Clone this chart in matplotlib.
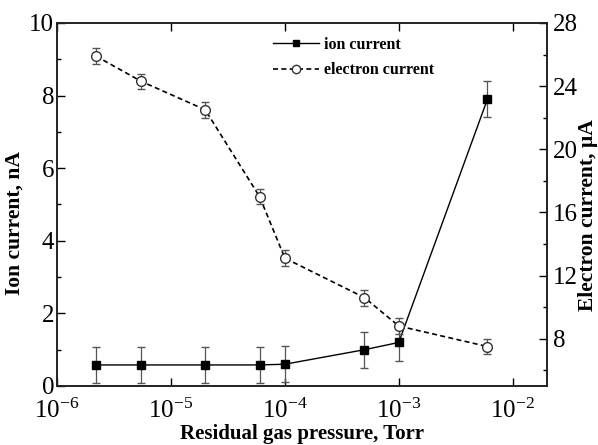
import numpy as np
import matplotlib
matplotlib.use('Agg')
import matplotlib.pyplot as plt
from matplotlib.ticker import MultipleLocator, LogLocator, NullLocator
from matplotlib.lines import Line2D

plt.rcParams['font.family'] = ['Liberation Serif', 'DejaVu Serif']
plt.rcParams['mathtext.fontset'] = 'custom'
plt.rcParams['mathtext.rm'] = 'Liberation Serif'

# pressure, Torr
pressure = [2.2e-6, 5.5e-6, 2.0e-5, 6.0e-5, 1.0e-4, 5.0e-4, 1.0e-3, 6.0e-3]
# ion current, nA
ion = [0.58, 0.58, 0.58, 0.58, 0.60, 1.0, 1.2, 7.9]
ion_err = [0.5, 0.5, 0.5, 0.5, 0.5, 0.5, 0.5, 0.5]
# electron current, uA
electron = [25.9, 24.3, 22.5, 17.0, 13.1, 10.6, 8.8, 7.5]
electron_err = [0.5, 0.5, 0.5, 0.5, 0.5, 0.5, 0.5, 0.5]

fig = plt.figure(figsize=(5.98, 4.45), dpi=100)
ax = fig.add_axes([57/598, 1 - 386/445, 490/598, 363/445])
ax2 = ax.twinx()

ax.errorbar(pressure, ion, yerr=ion_err, color='black', lw=1.0,
            marker='s', ms=6, mfc='black', ecolor='#555555',
            elinewidth=0.9, capsize=3)
ax2.errorbar(pressure, electron, yerr=electron_err, color='black', lw=1.2,
             ls=(0, (3, 2)), marker='o', ms=7, mfc='white', mec='#333333',
             ecolor='#555555', elinewidth=0.9, capsize=3)

ax.set_xscale('log')
ax.set_xlim(1e-6, 2e-2)
ax.set_ylim(0, 10)
ax2.set_ylim(5, 28)

ax.xaxis.set_major_locator(LogLocator(base=10, numticks=10))
ax.xaxis.set_minor_locator(NullLocator())
ax.yaxis.set_major_locator(MultipleLocator(2))
ax.yaxis.set_minor_locator(MultipleLocator(1))
ax2.yaxis.set_major_locator(MultipleLocator(4))
ax2.yaxis.set_minor_locator(MultipleLocator(2))

ax.tick_params(axis='x', which='both', direction='in', top=True, length=6,
               width=1, labelsize=18, pad=9)
ax.tick_params(axis='y', which='major', direction='in', length=6, width=1,
               labelsize=18, pad=2)
ax.tick_params(axis='y', which='minor', direction='in', length=3, width=1)
ax2.tick_params(axis='y', which='major', direction='in', length=6, width=1,
                labelsize=18, pad=4)
ax2.tick_params(axis='y', which='minor', direction='in', length=3, width=1)

for a in (ax, ax2):
    for s in a.spines.values():
        s.set_linewidth(1.2)
        s.set_color('#222222')

ax.set_xlabel('Residual gas pressure, Torr', fontsize=15, fontweight='bold',
              labelpad=1)
ax.set_ylabel('Ion current, nA', fontsize=15.5, fontweight='bold')
ax.yaxis.set_label_coords(-0.066, 0.45)
ax2.set_ylabel('Electron current, µA', fontsize=15.5, fontweight='bold')
ax2.yaxis.set_label_coords(1.063, 0.47)

h1 = Line2D([], [], color='black', lw=1.0, marker='s', ms=5, mfc='black')
h2 = Line2D([], [], color='black', lw=1.2, ls=(0, (3, 2)), marker='o', ms=6,
            mfc='white', mec='#333333')
ax.legend([h1, h2], ['ion current', 'electron current'],
          loc='upper left', bbox_to_anchor=(0.44, 0.962), frameon=False,
          borderaxespad=0, borderpad=0,
          prop={'weight': 'bold', 'size': 11.5}, handlelength=2.9,
          handletextpad=0.3, labelspacing=0.6)

fig.savefig('out.png', dpi=100)
